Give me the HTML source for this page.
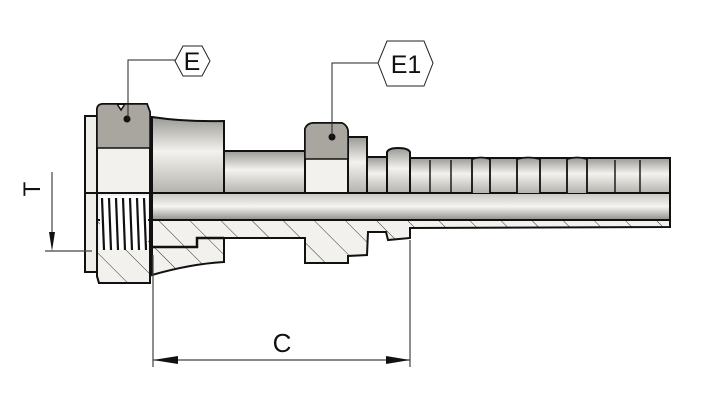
<!DOCTYPE html>
<html><head><meta charset="utf-8"><style>html,body{margin:0;padding:0;background:#fff}svg{display:block}</style></head><body>
<svg width="722" height="419" viewBox="0 0 722 419" xmlns="http://www.w3.org/2000/svg" font-family="Liberation Sans, sans-serif">
<defs>
<linearGradient id="g" x1="0" y1="0" x2="0" y2="1"><stop offset="0" stop-color="#9a9994"/><stop offset="0.45" stop-color="#f4f2ee"/><stop offset="1" stop-color="#b5b3ae"/></linearGradient>
<linearGradient id="gb" x1="0" y1="0" x2="0" y2="1"><stop offset="0" stop-color="#c9c7c2"/><stop offset="0.5" stop-color="#f6f4f0"/><stop offset="1" stop-color="#8f8e8a"/></linearGradient>
<pattern id="h" width="22" height="22" patternUnits="userSpaceOnUse" patternTransform="rotate(-45)"><rect width="22" height="22" fill="#f3f1ed"/><line x1="0" y1="0" x2="0" y2="22" stroke="#333" stroke-width="1"/></pattern>
</defs>
<g stroke="#111" stroke-width="2">
<!-- bore tube -->
<rect x="152" y="193" width="518" height="27" fill="url(#gb)"/>
<!-- section lower -->
<path d="M152 220 L670 220 L670 227 L410 228 L410 238 L388 240 L386 232 L368 232 L367 255 L348 256 L348 263 L305 263 L305 238 L224 238 L224 262 Q190 264 152 275 Z" fill="url(#h)"/>
<path d="M152 247 L197 247 L197 238 L224 238" fill="none" stroke-width="2.5"/>
<!-- upper outer -->
<path d="M152 117 Q185 122 224 121 L224 193 L152 193 Z" fill="url(#g)"/>
<rect x="224" y="151" width="81" height="42" fill="url(#g)"/>
<rect x="348" y="137" width="19" height="56" fill="url(#g)"/>
<rect x="367" y="157" width="20" height="36" fill="url(#g)"/>
<path d="M387 193 L387 152 Q389 148 398 148 Q408 148 410 152 L410 193 Z" fill="url(#g)"/>
<rect x="410" y="158" width="260" height="35" fill="url(#g)"/>
<path d="M472 193 V159 Q481 156 490 159 V193 M517 193 V159 Q528 156 540 159 V193 M567 193 V159 Q577 156 587 159 V193" fill="url(#g)" stroke-width="1.8"/>
<path d="M430 160V193 M451 160V193 M615 160V193 M640 160V193" stroke-width="1.4" fill="none"/>
<!-- hex E1 -->
<path d="M305 193 L305 129 Q307 123 314 123 L342 123 Q348 126 348 132 L348 193 Z" fill="#f3f1ed"/>
<path d="M305 159 L305 129 Q307 123 314 123 L342 123 Q348 126 348 132 L348 159 Z" fill="#a9a6a0" stroke-width="1.5"/>
<!-- nut E -->
<rect x="85" y="116" width="12" height="156" fill="#f0eee9"/>
<path d="M97 110 Q97 104 103 104 L147 104 L150 112 L150 283 L99 283 L97 276 Z" fill="#f3f1ed"/>
<path d="M97 148 L97 110 Q97 104 103 104 L117 104 L121 110 L125 104 L147 104 L150 112 L150 148 Z" fill="#a9a6a0" stroke-width="1.5"/>
<path d="M97 220 L150 220 L150 283 L99 283 L97 276 Z" fill="url(#h)"/>
<path d="M100 196 L148 196 L148 250 L100 250 Z" fill="#fff" stroke="none"/>
<g stroke-width="2.2">
<path d="M102 198 L104 250 M109 198 L111 250 M116 198 L118 250 M123 198 L125 250 M130 198 L132 250 M137 198 L139 250 M144 198 L146 250"/>
</g>
<line x1="85" y1="193" x2="152" y2="193"/>
</g>
<!-- dots -->
<circle cx="127" cy="119" r="3.5" fill="#111"/>
<circle cx="332" cy="137" r="3.5" fill="#111"/>
<!-- leaders -->
<g stroke="#222" stroke-width="1" fill="none">
<polyline points="175,60 128,60 128,119"/>
<polyline points="378,63 332,63 332,137"/>
<polygon points="175,61 183,46 202,46 210,61 202,76 183,76" fill="#fff"/>
<polygon points="378,63 387,41 424,41 433,63 424,86 387,86" fill="#fff"/>
</g>
<text x="192" y="70" font-size="25" text-anchor="middle" fill="#111">E</text>
<text x="406" y="73" font-size="25" text-anchor="middle" fill="#111">E1</text>
<!-- dims -->
<g stroke="#444" stroke-width="1.2" fill="none">
<line x1="52" y1="172" x2="52" y2="244"/>
<line x1="45" y1="251" x2="92" y2="251"/>
<line x1="153" y1="255" x2="153" y2="367"/>
<line x1="410" y1="240" x2="410" y2="367"/>
<line x1="153" y1="360" x2="410" y2="360"/>
</g>
<polygon points="49,232 55,232 52,251" fill="#111"/>
<polygon points="153,360 178,356 178,364" fill="#111"/>
<polygon points="410,360 386,356 386,364" fill="#111"/>
<text x="0" y="0" font-size="24" fill="#111" text-anchor="middle" transform="translate(40,189) rotate(-90)">T</text>
<text x="282" y="352" font-size="26" fill="#111" text-anchor="middle">C</text>
</svg>
</body></html>
